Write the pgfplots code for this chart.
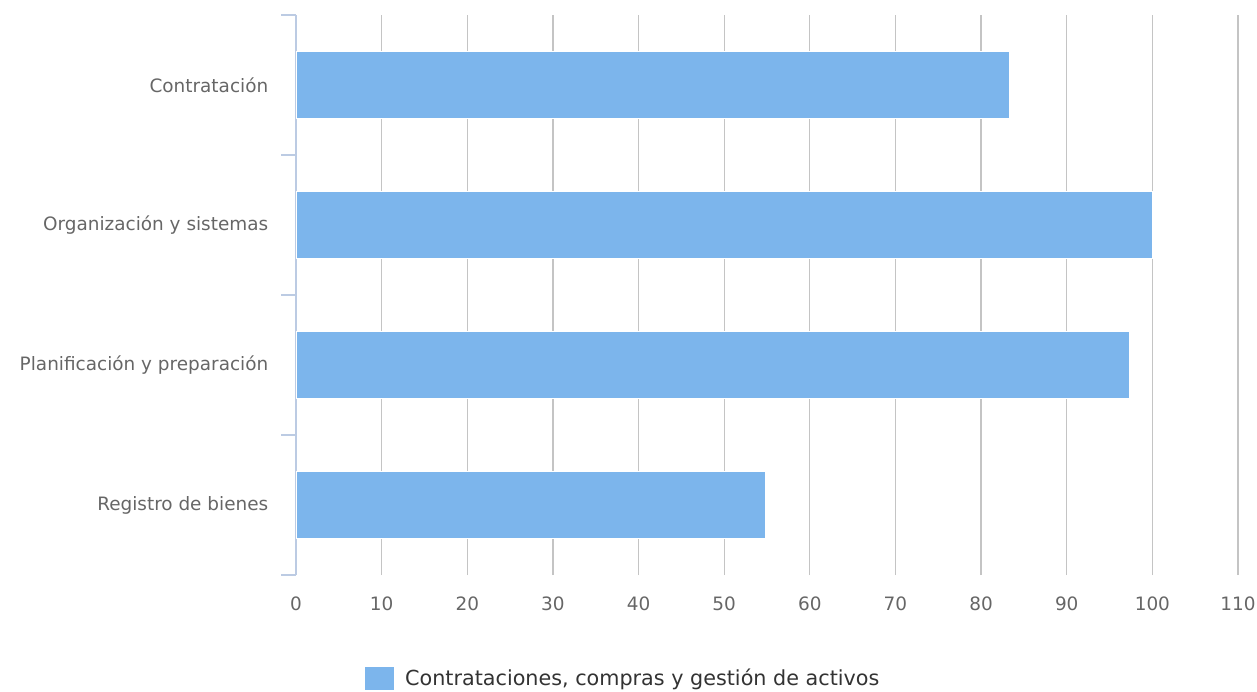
\documentclass[border=0pt]{standalone}
\usepackage{pgfplots}
\pgfplotsset{compat=1.18}
\usepackage{fontspec}
\setmainfont{DejaVu Sans}
\definecolor{barc}{HTML}{7CB5EC}
\definecolor{txt}{HTML}{666666}
\definecolor{gridc}{HTML}{C4C4C4}
\definecolor{axc}{HTML}{BCCBE3}
\begin{document}
\begin{tikzpicture}
\useasboundingbox (0,0) rectangle (1257bp,692bp);
\begin{axis}[
  at={(296bp,117bp)}, anchor=south west,
  scale only axis, width=942bp, height=560bp,
  xbar, bar width=67bp,
  xmin=0, xmax=110,
  ymin=-0.5, ymax=3.5,
  xtick={0,10,...,110},
  ytick={0,1,2,3},
  yticklabels={Registro de bienes,Planificación y preparación,Organización y sistemas,Contratación},
  minor ytick={-0.5,0.5,1.5,2.5,3.5},
  major y tick style={draw=none},
  minor y tick style={axc, line width=1.3bp},
  minor tick length=15bp,
  tick align=outside,
  ytick pos=left,
  x tick style={draw=none},
  xmajorgrids, grid style={gridc, line width=1.2bp},
  axis x line*=bottom,
  x axis line style={draw=none},
  axis y line*=left,
  y axis line style={axc, line width=1.3bp, -},
  ticklabel style={font=\fontsize{18.5}{21}\selectfont, text=txt},
  /pgf/number format/assume math mode=true,
  xticklabel style={yshift=-14bp},
  yticklabel style={xshift=-20bp},
  legend style={at={(axis description cs:0.3475,-0.184)}, anchor=center, draw=none, fill=none,
    font=\fontsize{20.8}{24}\selectfont, text=black!80, legend cell align=left},
  legend image code/.code={\fill[barc] (0bp,-11bp) rectangle (28bp,11bp); \path (37bp,0);},
]
\addplot[fill=barc, draw=white, line width=0.8bp] coordinates {
 (54.8,0) (97.35,1) (100,2) (83.3,3)
};
\addlegendentry{Contrataciones, compras y gestión de activos}
\end{axis}
\end{tikzpicture}
\end{document}
